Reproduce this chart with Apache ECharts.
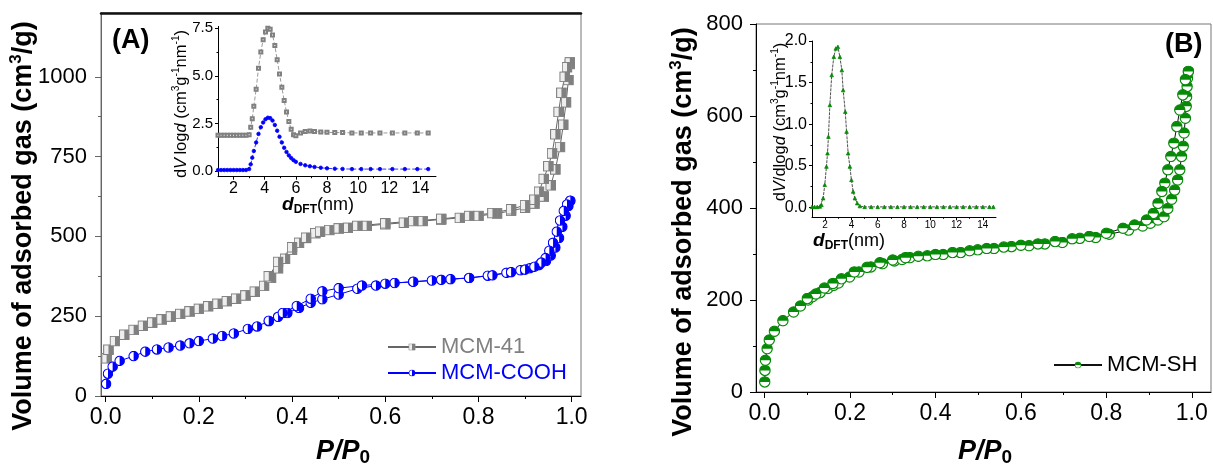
<!DOCTYPE html>
<html><head><meta charset="utf-8">
<script src="https://cdn.jsdelivr.net/npm/echarts@6/dist/echarts.min.js"></script>
<style>html,body{margin:0;padding:0;background:#fff}#c{width:1213px;height:466px}</style>
</head><body><div id="c"></div><script>
// ---------- DATA ----------
const P41_ads = [0.002,0.006,0.02,0.04,0.06,0.08,0.10,0.12,0.14,0.16,0.18,0.20,0.22,0.24,0.26,0.28,0.30,0.32,0.34,0.355,0.37,0.385,0.40,0.415,0.43,0.45,0.48,0.52,0.56,0.60,0.64,0.68,0.72,0.76,0.80,0.84,0.87,0.90,0.92,0.94,0.955,0.965,0.975,0.982,0.988,0.993,0.996];
const V41_ads = [118,145,172,192,207,220,230,240,249,257,265,273,281,289,297,305,315,327,345,370,400,430,458,480,495,510,520,527,533,538,543,548,553,558,564,572,580,590,603,625,660,710,780,850,920,990,1040];
const P41_des = [0.996,0.99,0.985,0.978,0.972,0.965,0.958,0.95,0.94,0.93,0.92,0.90,0.87,0.83,0.78,0.72,0.66,0.60,0.54,0.50,0.46,0.43,0.40,0.37,0.35];
const V41_des = [1045,1030,1000,950,890,820,760,720,680,640,615,598,585,573,564,555,548,541,533,525,515,496,466,420,375];

const PCOOH_ads = [0.001,0.005,0.015,0.03,0.06,0.085,0.11,0.135,0.16,0.18,0.20,0.23,0.25,0.275,0.305,0.325,0.35,0.37,0.39,0.415,0.44,0.465,0.50,0.54,0.58,0.62,0.66,0.70,0.74,0.78,0.82,0.86,0.89,0.91,0.93,0.945,0.955,0.965,0.973,0.98,0.987,0.993,0.997];
const VCOOH_ads = [38,70,92,110,125,139,146,152,158,165,172,180,188,196,210,218,234,248,260,276,292,303,318,336,346,354,358,362,366,370,377,386,394,400,410,423,440,465,495,530,565,595,612];
const PCOOH_des = [0.997,0.99,0.983,0.975,0.968,0.96,0.952,0.944,0.935,0.92,0.90,0.87,0.83,0.78,0.72,0.66,0.60,0.55,0.50,0.465,0.44,0.41,0.38,0.35];
const VCOOH_des = [612,600,580,550,515,480,455,432,418,405,396,388,378,370,364,358,352,346,338,328,305,282,260,236];

const PSH_ads = [0.0005,0.001,0.002,0.006,0.011,0.023,0.043,0.068,0.084,0.102,0.112,0.13,0.148,0.162,0.173,0.199,0.221,0.249,0.276,0.304,0.322,0.34,0.381,0.418,0.459,0.499,0.537,0.578,0.619,0.656,0.697,0.738,0.775,0.807,0.852,0.885,0.903,0.921,0.935,0.944,0.953,0.96,0.967,0.972,0.976,0.98,0.982,0.985,0.987,0.988,0.989,0.99,0.992];
const VSH_ads = [22,47,69,94,113,132,155,174,187,200,207,216,225,232,237,250,261,272,279,285,288,292,296,299,303,309,312,316,318,322,325,334,336,343,352,361,367,374,381,399,419,439,461,483,512,534,563,595,621,642,664,682,697];
const PSH_des = [0.992,0.985,0.979,0.972,0.965,0.958,0.951,0.944,0.937,0.93,0.921,0.91,0.894,0.866,0.839,0.80,0.76,0.72,0.68,0.64,0.60,0.56,0.52,0.48,0.44,0.40,0.36,0.33,0.30,0.27,0.24,0.21,0.18,0.16,0.14,0.12,0.10];
const VSH_des = [697,679,646,613,577,541,512,483,454,436,410,388,374,363,356,345,338,333,327,322,319,315,312,307,303,299,295,292,287,281,271,261,246,236,226,213,203];

const dA = [1.0,1.2,1.4,1.6,1.8,2.0,2.2,2.4,2.6,2.8,3.0,3.1,3.2,3.3,3.45,3.6,3.75,3.9,4.05,4.2,4.35,4.5,4.65,4.8,4.95,5.1,5.25,5.4,5.55,5.7,5.85,6.0,6.3,6.6,6.9,7.2,7.6,8.0,8.5,9.0,9.6,10.2,10.8,11.4,12.2,13.0,13.8,14.5];
const psd41 = [1.88,1.88,1.88,1.88,1.88,1.88,1.88,1.88,1.88,1.88,1.9,2.3,2.75,3.4,4.3,5.4,6.25,6.9,7.3,7.5,7.45,7.15,6.6,5.85,5.1,4.4,3.7,3.1,2.6,2.2,1.9,1.85,2.0,2.08,2.1,2.08,2.05,2.03,2.02,2.02,2.0,2.0,2.0,2.0,2.0,2.0,2.0,2.0];
const psdCOOH = [0.05,0.05,0.05,0.05,0.05,0.05,0.05,0.05,0.05,0.05,0.1,0.35,0.7,1.05,1.5,1.95,2.3,2.55,2.72,2.8,2.78,2.65,2.42,2.12,1.8,1.5,1.22,1.0,0.82,0.68,0.57,0.48,0.37,0.3,0.25,0.21,0.17,0.14,0.12,0.11,0.1,0.1,0.1,0.1,0.1,0.1,0.1,0.1];

const dB = [1.0,1.2,1.4,1.6,1.72,1.85,1.97,2.1,2.18,2.25,2.36,2.5,2.66,2.81,2.97,3.12,3.27,3.37,3.53,3.63,3.75,3.88,4.0,4.13,4.26,4.44,4.64,5.0,5.5,6.0,6.5,7.0,7.5,8.0,8.5,9.0,9.5,10.0,10.5,11.0,11.5,12.0,12.5,13.0,13.5,14.0,14.5,14.8];
const psdSH = [0.005,0.005,0.005,0.01,0.03,0.11,0.27,0.49,0.65,0.85,1.23,1.59,1.81,1.91,1.93,1.81,1.65,1.41,1.15,0.91,0.65,0.49,0.33,0.19,0.11,0.05,0.015,0.005,0.005,0.005,0.005,0.005,0.005,0.005,0.005,0.005,0.005,0.005,0.005,0.005,0.005,0.005,0.005,0.005,0.005,0.005,0.005,0.005];

// tick label ranges [min, max, interval]
const xTicksMain = [0, 1.0, 0.2];
const yTicksA = [0, 1000, 250];
const yTicksB = [0, 800, 200];
const dTicks = [2, 14, 2];
const yTicksIA = [0, 7.5, 2.5];
const yTicksIB = [0, 2.0, 0.5];

// ---------- STYLE ----------
const FONT = '"Liberation Sans", Arial, sans-serif';
const GRAY = '#808080', BLUE = '#0000ff', GREEN = '#078a07';

function svgSym(inner){
  const s = '<svg xmlns="http://www.w3.org/2000/svg" width="48" height="48" viewBox="0 0 24 24">' + inner + '</svg>';
  return 'image://data:image/svg+xml;charset=utf-8,' + encodeURIComponent(s);
}
const symSquare = svgSym('<rect x="1.5" y="1.5" width="21" height="21" fill="#eeeeee" stroke="'+GRAY+'" stroke-width="2.4"/><rect x="12" y="1.5" width="10.5" height="21" fill="'+GRAY+'"/>');
const symBlue = svgSym('<circle cx="12" cy="12" r="10.3" fill="#fff" stroke="'+BLUE+'" stroke-width="2.4"/><path d="M12 1.7 A10.3 10.3 0 0 1 12 22.3 Z" fill="'+BLUE+'"/>');
const symGreen = svgSym('<circle cx="12" cy="12" r="10.3" fill="#fff" stroke="'+GREEN+'" stroke-width="2.4"/><path d="M1.7 12 A10.3 10.3 0 0 1 22.3 12 Z" fill="'+GREEN+'"/>');

// Data grids 0..3; tick grids: 4..11 (y-tick grid and x-tick grid per plot)
const grids = [
  {left:101, top:13, width:480, height:383, show:true, borderColor:'#777', borderWidth:1},   // 0 A
  {left:218, top:26.4, width:218, height:150.3},                                           // 1 inset A
  {left:756, top:24, width:455, height:368, show:true, borderColor:'#777', borderWidth:1},  // 2 B
  {left:812, top:41, width:184, height:176.3},                                             // 3 inset B
  {left:101, top:76.83, width:480, height:319.17},      // 4 A y ticks (0..1000)
  {left:105.66, top:13, width:466, height:383},         // 5 A x ticks (0..1)
  {left:218, top:28.31, width:218, height:142.69},      // 6 inset A y ticks (0..7.5)
  {left:233.57, top:26.4, width:186.86, height:150.3},  // 7 inset A x ticks (2..14)
  {left:756, top:24, width:455, height:368},            // 8 B y ticks (0..800)
  {left:764.54, top:24, width:427.23, height:368},      // 9 B x ticks (0..1)
  {left:812, top:41, width:184, height:166.3},          // 10 inset B y ticks (0..2)
  {left:825.14, top:41, width:157.71, height:176.3}     // 11 inset B x ticks (2..14)
];

const X = [], Y = [];
function lineAxis(gi, pos, min, max, color){
  return {type:'value', gridIndex:gi, position:pos, min:min, max:max, splitLine:{show:false},
    axisLine:{show:true, onZero:false, lineStyle:{color:color, width:1}},
    axisTick:{show:false}, axisLabel:{show:false}};
}
function hiddenAxis(gi, pos){
  return {type:'value', gridIndex:gi, position:pos, min:0, max:1, show:false};
}
function tickAxis(gi, pos, t, dec, fs, color, len, margin){
  return {type:'value', gridIndex:gi, position:pos, min:t[0], max:t[1], interval:t[2],
    splitLine:{show:false},
    axisLine:{show:false, onZero:false},
    axisTick:{show:true, length:len, lineStyle:{color:color}},
    minorTick:{show:true, splitNumber:2, length:len/2, lineStyle:{color:color}},
    axisLabel:{show:true, margin:margin, fontSize:fs, fontFamily:FONT, color:'#000',
      formatter: v => (dec ? Number(v).toFixed(dec) : String(v))}};
}
// data axes
X.push(lineAxis(0,'bottom',-0.01,1.02,'#000'));   //0
Y.push(lineAxis(0,'left',0,1200,'#666'));          //0
X.push(lineAxis(1,'bottom',1,15,'#000'));          //1
Y.push(lineAxis(1,'left',-0.3,7.6,'#000'));        //1
X.push(lineAxis(2,'bottom',-0.02,1.045,'#000'));   //2
Y.push(lineAxis(2,'left',0,800,'#000'));           //2
X.push(lineAxis(3,'bottom',1,15,'#000'));          //3
Y.push(lineAxis(3,'left',-0.12,2.0,'#000'));       //3
// tick/label axes
X.push(hiddenAxis(4,'bottom'));  Y.push(tickAxis(4,'left',yTicksA,0,22,'#666',6,14));
X.push(tickAxis(5,'bottom',xTicksMain,1,23,'#000',6,10));  Y.push(hiddenAxis(5,'left'));
X.push(hiddenAxis(6,'bottom'));  Y.push(tickAxis(6,'left',yTicksIA,1,15,'#000',3,5));
X.push(tickAxis(7,'bottom',dTicks,0,16,'#000',3,4));  Y.push(hiddenAxis(7,'left'));
X.push(hiddenAxis(8,'bottom'));  Y.push(tickAxis(8,'left',yTicksB,0,22,'#000',6,13));
X.push(tickAxis(9,'bottom',xTicksMain,1,23,'#000',6,10));  Y.push(hiddenAxis(9,'left'));
X.push(hiddenAxis(10,'bottom')); Y.push(tickAxis(10,'left',yTicksIB,1,16,'#000',3,5));
X.push(tickAxis(11,'bottom',dTicks,0,10,'#000',3,3));  Y.push(hiddenAxis(11,'left'));
// Top frame line for panel A
X.push({type:'value', gridIndex:0, position:'top', min:-0.01, max:1.02, splitLine:{show:false},
  axisLine:{show:true, onZero:false, lineStyle:{color:'#111', width:2.5}}, axisTick:{show:false}, axisLabel:{show:false}});

const zip = (a,b) => a.map((v,i)=>[v,b[i]]);

function iso(name, P, V, xi, yi, sym, size, lineColor){
  return {type:'line', name:name, xAxisIndex:xi, yAxisIndex:yi, data:zip(P,V),
    symbol:sym, symbolSize:size, showSymbol:true, lineStyle:{color:lineColor, width:1},
    itemStyle:{color:lineColor}, z:3, animation:false};
}
function psd(name, D, Vv, xi, yi, sym, size, color, lineColor, dash){
  return {type:'line', name:name, xAxisIndex:xi, yAxisIndex:yi, data:zip(D,Vv),
    symbol:sym, symbolSize:size, showSymbol:true,
    lineStyle:{color:lineColor, width:0.8, type:dash},
    itemStyle:{color:color, borderColor:color, borderWidth:0.8}, z:4, animation:false};
}

const series = [
  iso('MCM-41', P41_ads, V41_ads, 0, 0, symSquare, 11, '#666'),
  iso('MCM-41', P41_des, V41_des, 0, 0, symSquare, 11, '#666'),
  iso('MCM-COOH', PCOOH_ads, VCOOH_ads, 0, 0, symBlue, 11, BLUE),
  iso('MCM-COOH', PCOOH_des, VCOOH_des, 0, 0, symBlue, 11, BLUE),
  iso('MCM-SH', PSH_ads, VSH_ads, 2, 2, symGreen, 12, '#111'),
  iso('MCM-SH', PSH_des, VSH_des, 2, 2, symGreen, 12, '#111'),
  psd('psd41', dA, psd41, 1, 1, 'emptyRect', 3, GRAY, GRAY, [4,2]),
  psd('psdCOOH', dA, psdCOOH, 1, 1, 'circle', 3.5, BLUE, BLUE, [4,2]),
  psd('psdSH', dB, psdSH, 3, 3, 'triangle', 3.5, GREEN, '#222', [3,1])
];

function txt(x, y, rot, rich, text, align){
  return {type:'text', x:x, y:y, rotation:rot, z:10,
    style:{text:text, rich:rich, align:align||'center', verticalAlign:'middle', fill:'#000'}};
}
const bigRich = {
  b:{fontSize:27, fontWeight:'bold', fontFamily:FONT, lineHeight:32, fill:'#000'},
  sup:{fontSize:17, fontWeight:'bold', fontFamily:FONT, lineHeight:32, verticalAlign:'top', fill:'#000'}
};
const ppRich = {
  p:{fontSize:27, fontWeight:'bold', fontStyle:'italic', fontFamily:FONT, lineHeight:30, fill:'#000'},
  sub:{fontSize:19, fontWeight:'bold', fontFamily:FONT, lineHeight:30, verticalAlign:'bottom', padding:[10,0,0,0], fill:'#000'}
};
function insetRich(fs){
  return {
    n:{fontSize:fs, fontFamily:FONT, lineHeight:fs+4, fill:'#000'},
    i:{fontSize:fs, fontFamily:FONT, fontStyle:'italic', lineHeight:fs+4, fill:'#000'},
    s:{fontSize:fs*0.62, fontFamily:FONT, lineHeight:fs+4, verticalAlign:'top', fill:'#000'}
  };
}
const dRich = {
  d:{fontSize:19, fontWeight:'bold', fontStyle:'italic', fontFamily:FONT, lineHeight:22, fill:'#000'},
  sub:{fontSize:12, fontWeight:'bold', fontFamily:FONT, lineHeight:22, verticalAlign:'bottom', padding:[6,0,0,0], fill:'#000'},
  n:{fontSize:18, fontFamily:FONT, lineHeight:22, fill:'#000'}
};

const graphic = [
  txt(24, 226, Math.PI/2, bigRich, '{b|Volume of adsorbed gas (cm}{sup|3}{b|/g)}'),
  txt(684, 232, Math.PI/2, bigRich, '{b|Volume of adsorbed gas (cm}{sup|3}{b|/g)}'),
  txt(343, 452, 0, ppRich, '{p|P/P}{sub|0}'),
  txt(985, 452, 0, ppRich, '{p|P/P}{sub|0}'),
  txt(181, 104, Math.PI/2, insetRich(16.5), '{n|d}{i|V} {n|log}{i|d}{n| (cm}{s|3}{n|g}{s|-1}{n|nm}{s|-1}{n|)}'),
  txt(780, 122, Math.PI/2, insetRich(16.5), '{n|d}{i|V}{n|/dlog}{i|d}{n| (cm}{s|3}{n|g}{s|-1}{n|nm}{s|-1}{n|)}'),
  txt(318, 205, 0, dRich, '{d|d}{sub|DFT}{n|(nm)}'),
  txt(849, 241, 0, dRich, '{d|d}{sub|DFT}{n|(nm)}'),
  {type:'text', x:112, y:41, z:10, style:{text:'(A)', font:'bold 27px "Liberation Sans", Arial, sans-serif', fill:'#000', align:'left', verticalAlign:'middle'}},
  {type:'text', x:1165, y:45, z:10, style:{text:'(B)', font:'bold 27px "Liberation Sans", Arial, sans-serif', fill:'#000', align:'left', verticalAlign:'middle'}}
];

const legend = [
  {left:382, top:331, orient:'vertical', itemWidth:48, itemHeight:9, itemGap:4,
   textStyle:{fontSize:22, fontFamily:FONT},
   data:[{name:'MCM-41', textStyle:{color:GRAY}}, {name:'MCM-COOH', textStyle:{color:BLUE}}]},
  {left:1048, top:349, orient:'vertical', itemWidth:48, itemHeight:9,
   textStyle:{fontSize:22, fontFamily:FONT, color:'#000'},
   data:[{name:'MCM-SH'}]}
];

const chart = echarts.init(document.getElementById('c'), null, {renderer:'canvas'});
chart.setOption({animation:false, backgroundColor:'#fff', grid:grids, xAxis:X, yAxis:Y,
  series:series, legend:legend, graphic:graphic});
</script></body></html>
